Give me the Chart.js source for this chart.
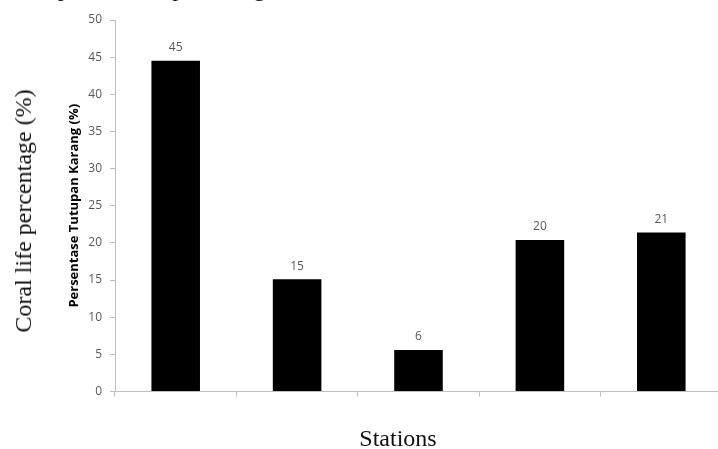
<!DOCTYPE html>
<html>
<head>
<meta charset="utf-8">
<script src="https://cdn.jsdelivr.net/npm/chart.js@4.4.0/dist/chart.umd.min.js"></script>
<style>
    body { margin: 0; background: #fff; width: 718px; height: 449px; overflow: hidden; position: relative; }
    #wrap { position: absolute; left: 0; top: 0; width: 730px; height: 449px; }
    .serif { position: absolute; font-family: "Liberation Serif", "DejaVu Serif", serif; font-size: 24px; line-height: 24px; color: #111; white-space: nowrap; }
    #topText { left: 5px; top: -24px; }
    #yOuter { left: 23px; top: 211px; transform: translate(-50%, -50%) rotate(-90deg); }
    #xTitle { left: 398px; top: 426px; transform: translateX(-50%); }
</style>
</head>
<body>
<div id="wrap"><canvas id="myChart" width="730" height="449"></canvas></div>
<div id="topText" class="serif">The species with percentage of</div>
<div id="yOuter" class="serif">Coral life percentage (%)</div>
<div id="xTitle" class="serif">Stations</div>
<script>
// stasiun 1 - 5
const stations = ['1', '2', '3', '4', '5'];
// persentase tutupan karang (%)
const coverValues = [44.5, 15.1, 5.6, 20.4, 21.4];
const yTicks = [0, 5, 10, 15, 20, 25, 30, 35, 40, 45, 50];

const AXIS_GREY = '#bfbfbf';
const TEXT_GREY = '#595959';

// tulis angka di atas batang
const barLabels = {
    id: 'barLabels',
    afterDatasetsDraw(chart) {
        var ctx = chart.ctx;
        var meta = chart.getDatasetMeta(0);
        ctx.save();
        ctx.font = '12px "Open Sans"';
        ctx.fillStyle = TEXT_GREY;
        ctx.textAlign = 'center';
        ctx.textBaseline = 'alphabetic';
        meta.data.forEach(function(bar, i) {
            ctx.fillText(Math.round(coverValues[i]).toString(), bar.x, bar.y - 9.5);
        });
        ctx.restore();
    }
};

var ctx = document.getElementById('myChart');
var myChart = new Chart(ctx, {
    type: 'bar',
    data: {
        labels: stations,
        datasets: [{
            data: coverValues,
            backgroundColor: '#000000',
            borderWidth: 0,
            categoryPercentage: 1,
            barPercentage: 0.4
        }]
    },
    options: {
        responsive: false,
        animation: false,
        layout: { padding: { left: 0, right: 8, top: 20, bottom: 0 } },
        plugins: {
            legend: { display: false },
            tooltip: { enabled: false }
        },
        scales: {
            x: {
                ticks: { display: false },
                grid: { drawOnChartArea: false, color: AXIS_GREY, tickLength: 5 },
                border: { color: AXIS_GREY },
                afterFit: function(scale) { scale.height = 57.5; }
            },
            y: {
                min: 0,
                max: 50,
                afterBuildTicks: function(scale) {
                    scale.ticks = yTicks.map(function(v) { return { value: v }; });
                },
                ticks: {
                    padding: 8,
                    color: TEXT_GREY,
                    font: { family: 'Open Sans', size: 12 }
                },
                grid: { drawOnChartArea: false, color: AXIS_GREY, tickLength: 5 },
                border: { color: AXIS_GREY },
                title: {
                    display: true,
                    text: 'Persentase Tutupan Karang (%)',
                    color: '#000',
                    font: { family: 'Open Sans', size: 13, weight: 'bold' },
                    padding: { top: 66.2, bottom: 0 }
                },
                afterFit: function(scale) { scale.width = 115; }
            }
        }
    },
    plugins: [barLabels]
});
</script>
</body>
</html>
